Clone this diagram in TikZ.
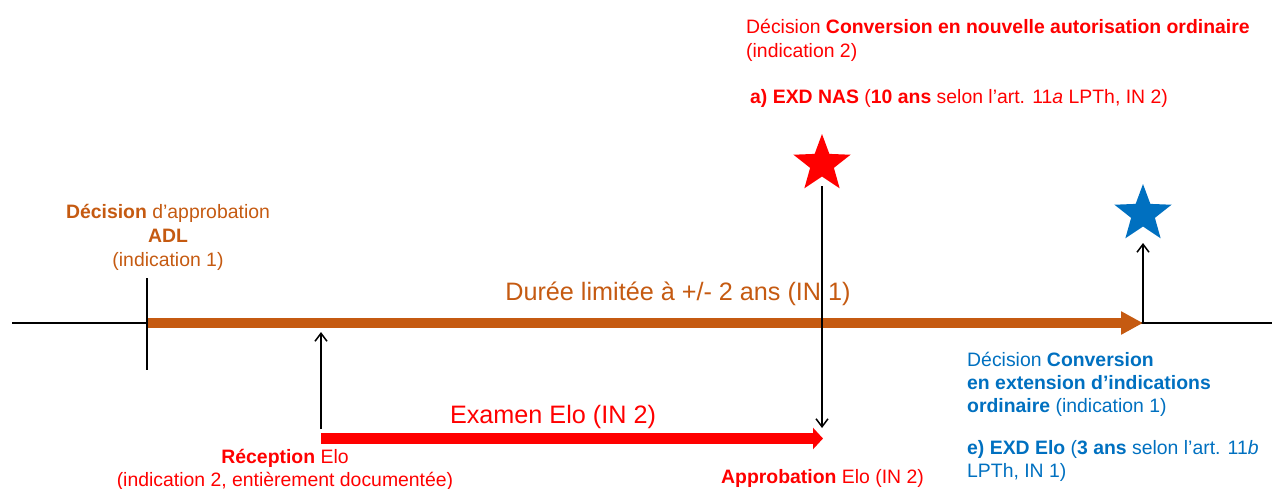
\documentclass[tikz,border=0pt]{standalone}
\usepackage{fontspec}
\setmainfont{Liberation Sans}
\usetikzlibrary{arrows.meta,shapes.geometric}
\definecolor{orng}{HTML}{C55A11}
\definecolor{rd}{HTML}{FF0000}
\definecolor{bl}{HTML}{0070C0}
\tikzset{
  txt/.style={inner sep=0pt,font=\fontsize{19.4}{23}\selectfont},
  bigtxt/.style={inner sep=0pt,font=\fontsize{25.2}{30}\selectfont},
  thin/.style={line width=1.5pt,black},
  upar/.style={thin,-{Straight Barb[length=8pt,width=12pt,line width=1.5pt]}},
  starnode/.style={star,star points=5,star point ratio=2.4,minimum size=60pt,inner sep=0pt,draw=none}
}
\begin{document}
\begin{tikzpicture}[x=1pt,y=-1pt]
\useasboundingbox (0,0) rectangle (1272,488);
% coordinates
\coordinate (tlL) at (12,323);
\coordinate (tlR) at (1272,323);
\coordinate (oS) at (147,323);
\coordinate (oE) at (1143,323);
\coordinate (tickT) at (147,278);
\coordinate (tickB) at (147,370);
\coordinate (recB) at (321,429);
\coordinate (recT) at (321,332);
\coordinate (rS) at (321,438.5);
\coordinate (rE) at (823,438.5);
\coordinate (rsB) at (822,186);
\coordinate (apT) at (822,428);
\coordinate (bsA) at (1143,243);
% timeline
\draw[line width=2.2pt] (tlL) -- (tlR);
% orange arrow
\draw[orng,line width=10.7pt,-{Triangle[length=22pt,width=22pt]}] (oS) -- (oE);
% tick
\draw[thin] (tickT) -- (tickB);
% reception arrow
\draw[upar] (recB) -- (recT);
% red arrow
\draw[rd,line width=10.7pt,-{Triangle[length=10pt,width=21pt]}] (rS) -- (rE);
% stars
\node[starnode,fill=rd] (rstar) at (822,164) {};
\node[starnode,fill=bl] (bstar) at (1143,214) {};
% down arrow from red star
\draw[upar] (rsB) -- (apT);
% up arrow to blue star
\draw[upar] (oE) -- (bsA);
% orange texts
\node[txt,orng,anchor=base] (o1) at (168,218) {\textbf{Décision} d’approbation};
\node[txt,orng,anchor=base] (o2) at (168,242) {\textbf{ADL}};
\node[txt,orng,anchor=base] (o3) at (168,266) {(indication 1)};
\node[bigtxt,orng,anchor=base] (duree) at (678,300) {Durée limitée à +/- 2 ans (IN 1)};
% red top texts
\node[txt,rd,anchor=base west] (r1) at (746,33) {Décision \textbf{Conversion en nouvelle autorisation ordinaire}};
\node[txt,rd,anchor=base west] (r2) at (746,57) {(indication 2)};
\node[txt,rd,anchor=base west] (r3) at (750,103) {\textbf{a) EXD NAS} (\textbf{10 ans} selon l’art. 11\textit{a} LPTh, IN 2)};
% red bottom texts
\node[bigtxt,rd,anchor=base] (exam) at (553,423) {Examen Elo (IN 2)};
\node[txt,rd,anchor=base] (rec1) at (285,463) {\textbf{Réception} Elo};
\node[txt,rd,anchor=base] (rec2) at (285,486) {(indication 2, entièrement documentée)};
\node[txt,rd,anchor=base west] (appr) at (721,483) {\textbf{Approbation} Elo (IN 2)};
% blue texts
\node[txt,bl,anchor=base west] (b1) at (967,366) {Décision \textbf{Conversion}};
\node[txt,bl,anchor=base west] (b2) at (967,389) {\textbf{en extension d’indications}};
\node[txt,bl,anchor=base west] (b3) at (967,412) {\textbf{ordinaire} (indication 1)};
\node[txt,bl,anchor=base west] (b4) at (967,454) {\textbf{e) EXD Elo} (\textbf{3 ans} selon l’art. 11\textit{b}};
\node[txt,bl,anchor=base west] (b5) at (967,477) {LPTh, IN 1)};
\end{tikzpicture}
\end{document}
